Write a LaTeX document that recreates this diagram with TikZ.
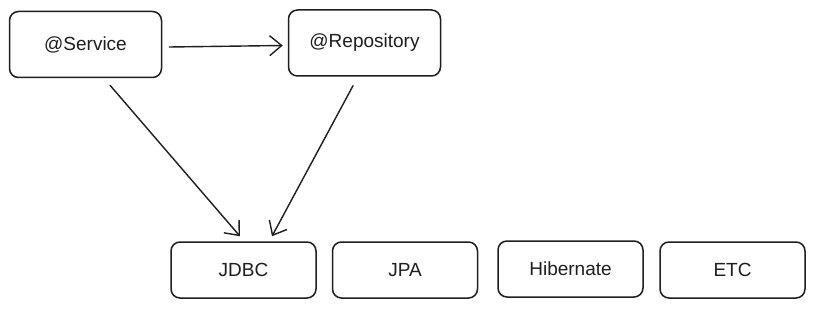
\documentclass[tikz,border=0pt]{standalone}
\usepackage{fontspec}
\setmainfont{Liberation Sans}
\usetikzlibrary{arrows.meta,calc}
\definecolor{ink}{HTML}{1E1E1E}
\begin{document}
\begin{tikzpicture}[x=1pt,y=-1pt,
  box/.style={draw=ink, line width=1.5pt, rounded corners=9pt, fill=white,
    text=ink, font=\fontsize{19}{22}\selectfont, inner sep=0pt},
  bigbox/.style={box, minimum width=152pt, minimum height=66pt},
  smallbox/.style={box, minimum width=145pt, minimum height=56pt},
  link/.style={draw=ink, line width=1.4pt, line cap=round,
    -{Straight Barb[length=12pt,width=20pt,line width=1.4pt]}}]
  \useasboundingbox (0,0) rectangle (814,310);
  \fill[white] (0,0) rectangle (814,310);

  % top layer
  \node[bigbox] (serv) at (85.5,44.5) {@Service};
  \node[bigbox] (repo) at (364.5,43)  {@Repository};

  % data access technologies
  \node[smallbox] (jdbc) at (243.5,270) {JDBC};
  \node[smallbox] (jpa)  at (405,270)   {JPA};
  \node[smallbox] (hib)  at (570.5,269) {Hibernate};
  \node[smallbox] (etc)  at (732.5,270) {ETC};

  % dependencies
  \draw[link] ($(serv.east)+(7,2.5)$) -- ($(repo.west)+(-5,2.5)$);
  \draw[link] ($(serv.south)+(24.5,7)$) -- ($(jdbc.north)+(-3.5,-5)$);
  \draw[link] ($(repo.south)+(-11.5,9)$) -- ($(jdbc.north)+(28.5,-5)$);
\end{tikzpicture}
\end{document}
